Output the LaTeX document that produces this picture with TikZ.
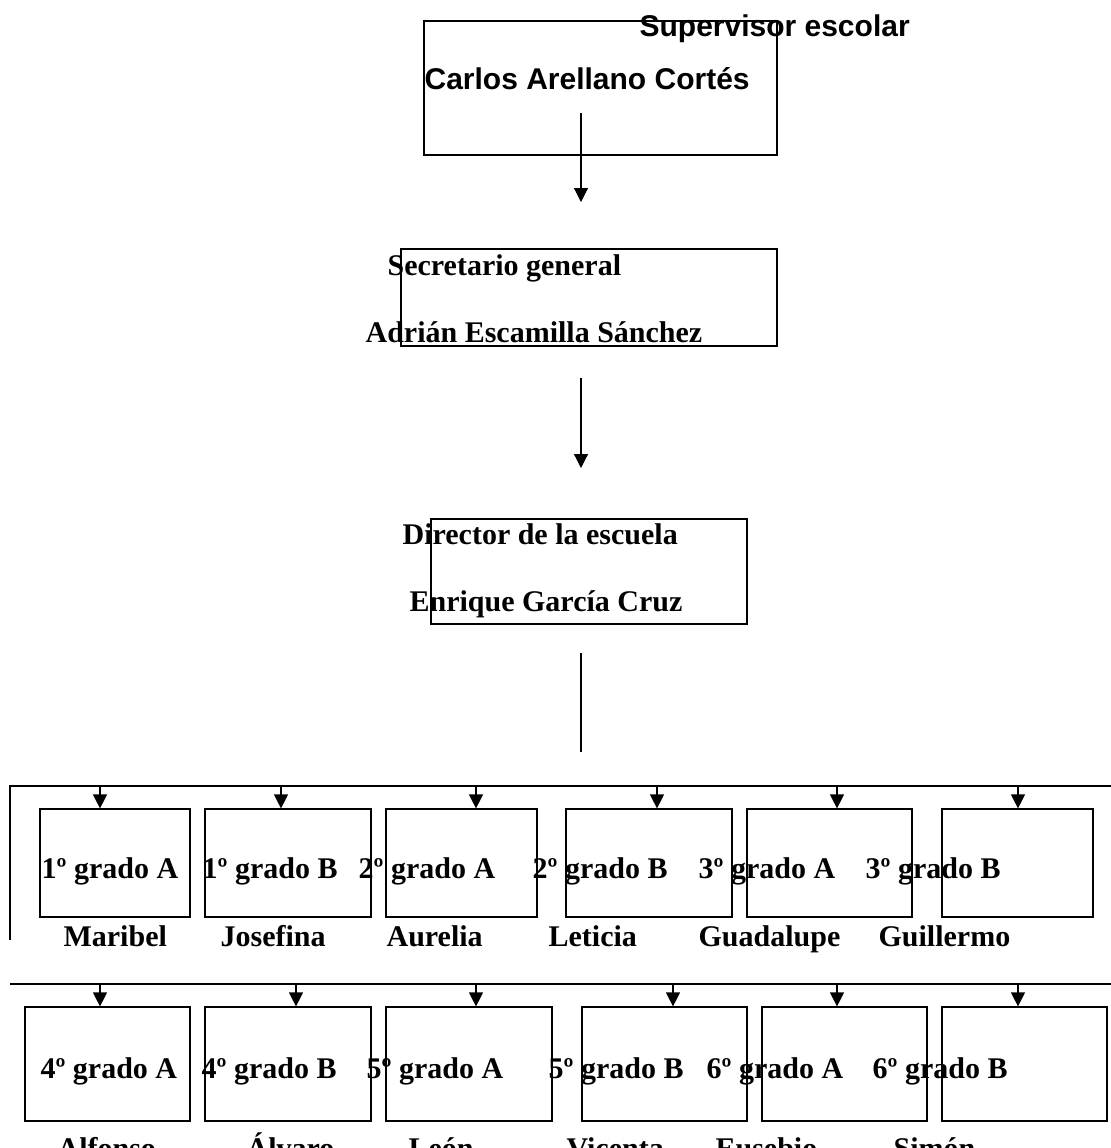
\documentclass[tikz,border=0pt]{standalone}
\usepackage{fontspec}
\setmainfont{Liberation Serif}
\newfontfamily\arialfont{Liberation Sans}
\usetikzlibrary{arrows.meta, fit}

\begin{document}
\begin{tikzpicture}[
    x=0.5pt,
    y=-0.5pt,
    line width=0.6pt,
    >={Triangle[width=7pt, length=7pt]},
    orgbox/.style={draw, inner sep=0pt, fit={#1}},
    txt/.style={anchor=base west, inner sep=0pt, font=\fontsize{15}{18}\selectfont\bfseries},
    sans/.style={txt, font=\arialfont\fontsize{15}{18}\selectfont\bfseries},
]
    \useasboundingbox (0,0) rectangle (1111,1148);

    % upper levels
    \node[orgbox={(424,21) (777,155)}]  (sup) {};
    \node[sans] (supT) at (639,36.7) {Supervisor escolar};
    \node[sans] (supN) at (424,89)   {Carlos Arellano Cortés};

    \node[orgbox={(401,249) (777,346)}] (sec) {};
    \node[txt] (secT) at (387,275) {Secretario general};
    \node[txt] (secN) at (365,342) {Adrián Escamilla Sánchez};

    \node[orgbox={(431,519) (747,624)}] (dir) {};
    \node[txt] (dirT) at (402,544) {Director de la escuela};
    \node[txt] (dirN) at (409,611) {Enrique García Cruz};

    \coordinate (a1) at (581,113);
    \coordinate (a2) at (581,202);
    \coordinate (b1) at (581,378);
    \coordinate (b2) at (581,468);
    \coordinate (c1) at (581,653);
    \coordinate (c2) at (581,752);
    \draw[->] (a1) -- (a2);
    \draw[->] (b1) -- (b2);
    \draw     (c1) -- (c2);

    % buses
    \coordinate (busAs) at (10,940);
    \coordinate (busAw) at (10,786);
    \coordinate (busAe) at (1111,786);
    \coordinate (busBw) at (10,984);
    \coordinate (busBe) at (1111,984);
    \draw (busAs) -- (busAw) -- (busAe);
    \draw (busBw) -- (busBe);

    % first row of groups
    \foreach \i/\xa/\xb/\xt in {1/40/190/100, 2/205/371/281, 3/386/537/476,
                                4/566/732/657, 5/747/912/837, 6/942/1093/1018} {
        \node[orgbox={(\xa,809) (\xb,917)}] (r\i) {};
        \coordinate (t\i) at (\xt,786);
        \draw[->] (t\i) -- (t\i |- r\i.north);
    }

    % second row of groups
    \foreach \i/\xa/\xb/\xt in {1/25/190/100, 2/205/371/296, 3/386/552/476,
                                4/582/747/673, 5/762/927/837, 6/942/1107/1018} {
        \node[orgbox={(\xa,1007) (\xb,1121)}] (s\i) {};
        \coordinate (u\i) at (\xt,984);
        \draw[->] (u\i) -- (u\i |- s\i.north);
    }

    \foreach \x/\t [count=\i] in {41/1º grado A, 202/1º grado B, 358/2º grado A,
                                  532/2º grado B, 698/3º grado A, 865/3º grado B}
        \node[txt] (gA\i) at (\x,878) {\t};
    \foreach \x/\t [count=\i] in {63/Maribel, 220/Josefina, 386/Aurelia,
                                  548/Leticia, 698/Guadalupe, 878/Guillermo}
        \node[txt] (mA\i) at (\x,946) {\t};

    \foreach \x/\t [count=\i] in {40/4º grado A, 201/4º grado B, 366/5º grado A,
                                  548/5º grado B, 706/6º grado A, 872/6º grado B}
        \node[txt] (gB\i) at (\x,1078) {\t};
    \foreach \x/\t [count=\i] in {57/Alfonso, 246/Álvaro, 408/León,
                                  566/Vicenta, 715/Eusebio, 893/Simón}
        \node[txt] (mB\i) at (\x,1158) {\t};
\end{tikzpicture}
\end{document}
